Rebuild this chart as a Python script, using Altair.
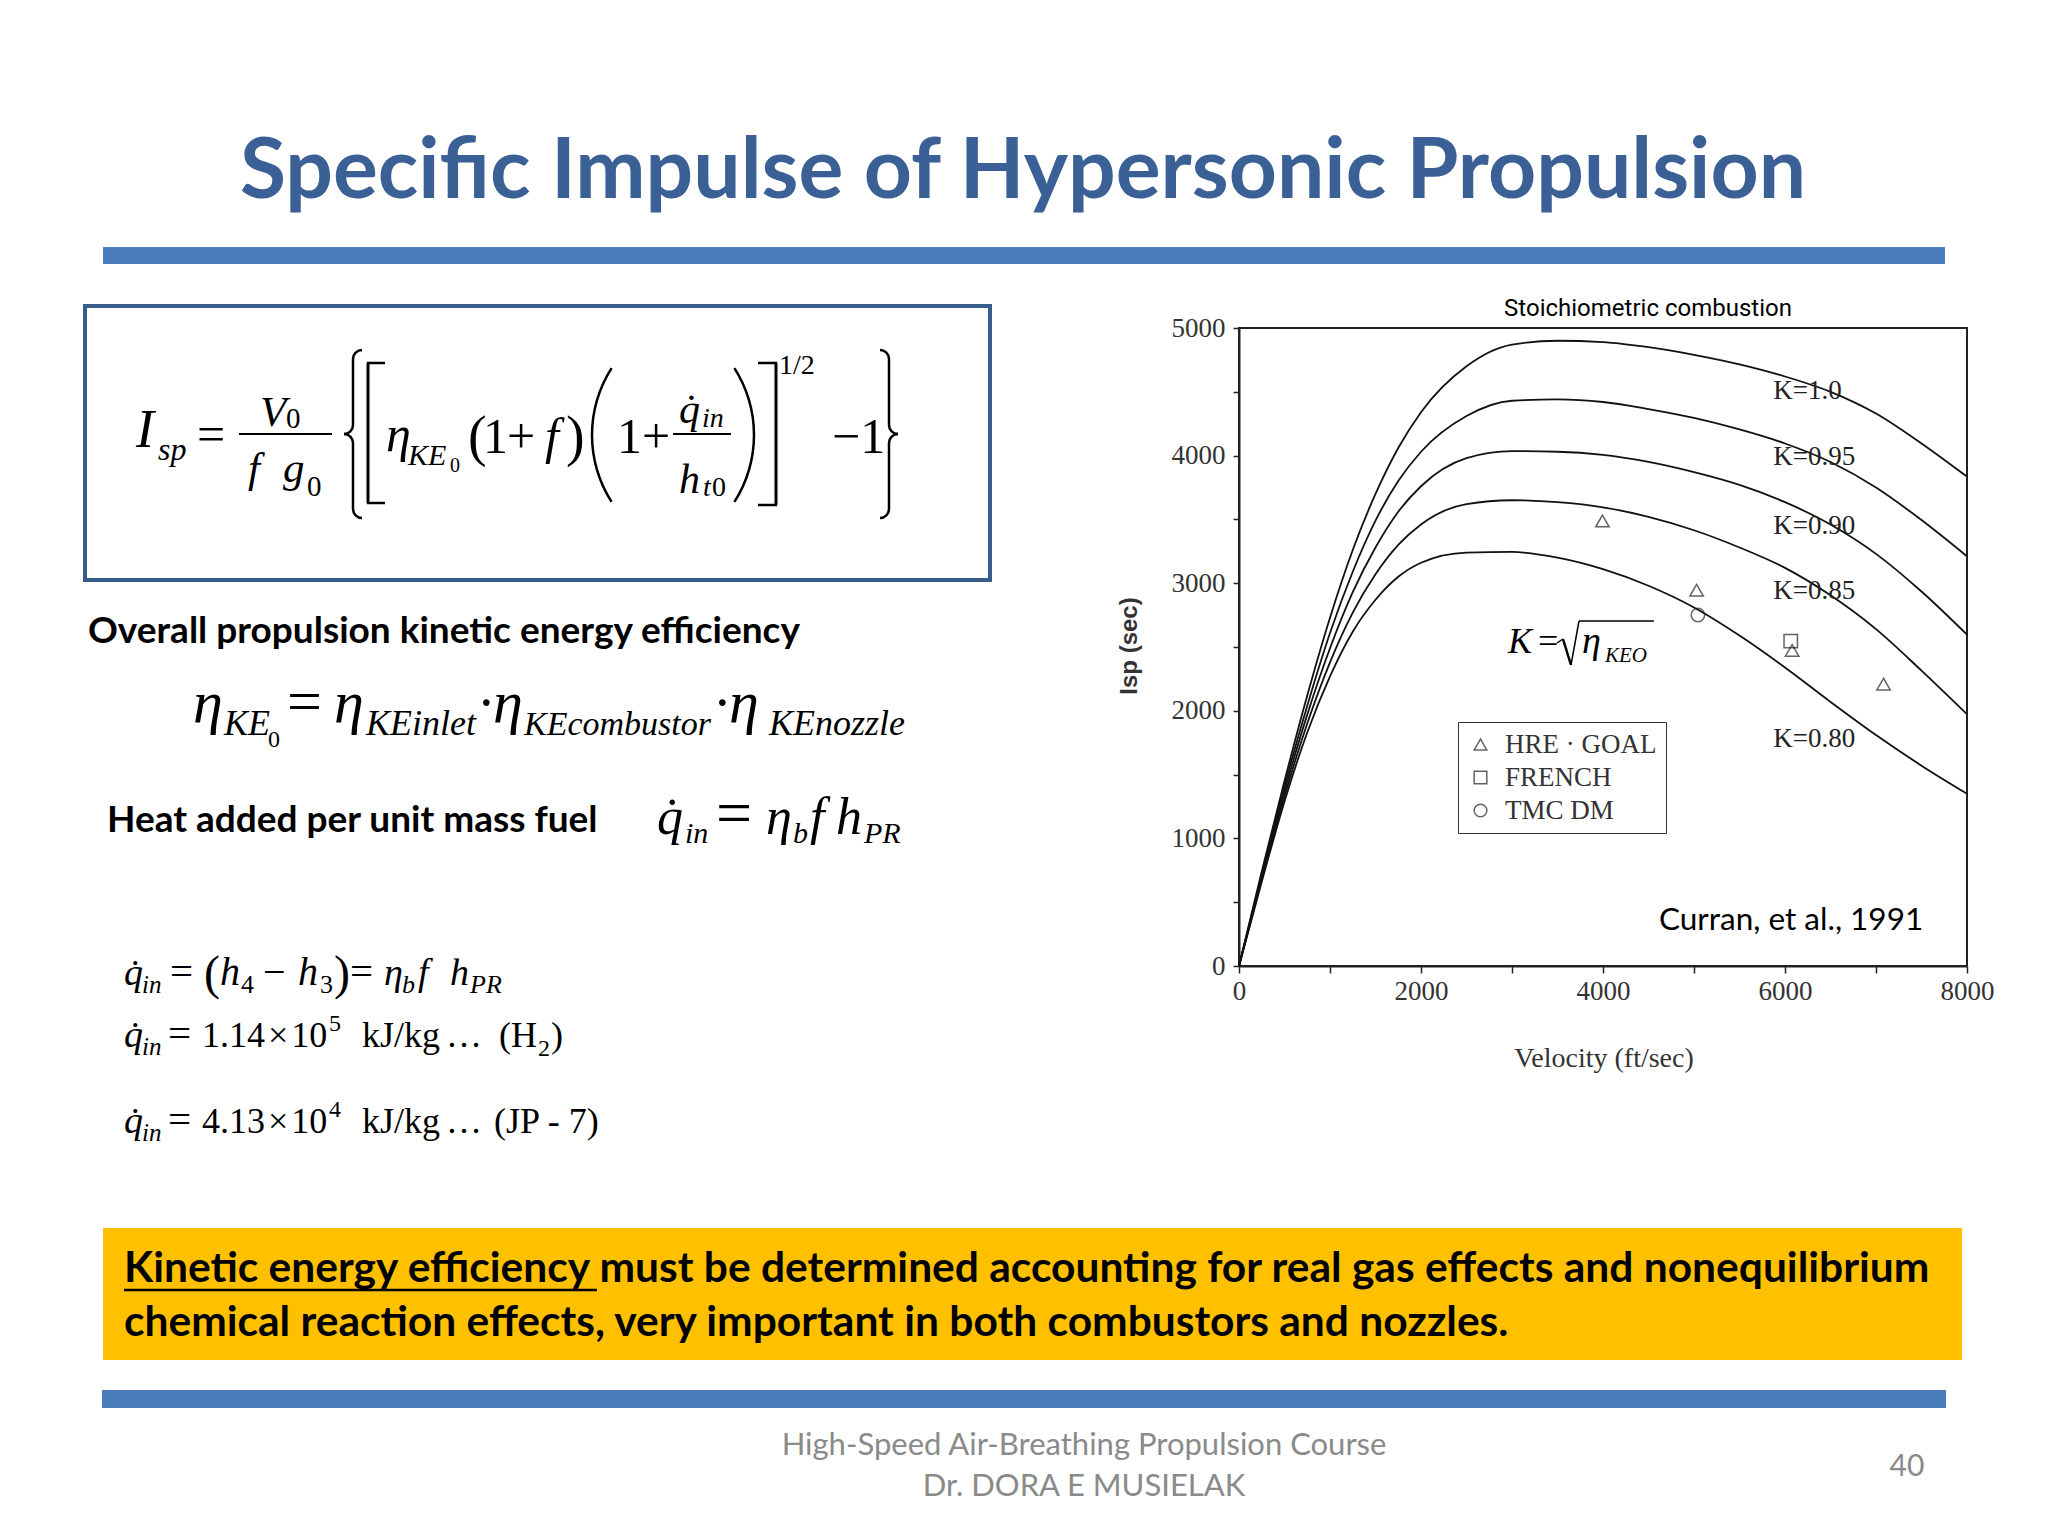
import math
import altair as alt
import pandas as pd

# ---------------- chart data ----------------
velocity = [0, 250, 500, 750, 1000, 1250, 1500, 1750, 2000, 2500, 3000, 3500,
            4000, 4500, 5000, 5500, 6000, 6500, 7000, 7500, 8000]
isp_k100 = [0, 740, 1450, 2120, 2730, 3260, 3700, 4060, 4340, 4700, 4870, 4900,
            4890, 4850, 4790, 4715, 4620, 4500, 4330, 4095, 3835]
isp_k095 = [0, 720, 1410, 2040, 2610, 3090, 3490, 3800, 4030, 4310, 4430, 4440,
            4420, 4365, 4295, 4205, 4095, 3950, 3750, 3495, 3211]
isp_k090 = [0, 700, 1370, 1970, 2490, 2930, 3280, 3560, 3760, 3980, 4035, 4030,
            4005, 3950, 3870, 3770, 3635, 3460, 3230, 2935, 2597]
isp_k085 = [0, 680, 1330, 1900, 2380, 2770, 3070, 3300, 3460, 3620, 3650, 3635,
            3595, 3520, 3415, 3280, 3120, 2905, 2640, 2315, 1973]
isp_k080 = [0, 660, 1290, 1830, 2270, 2620, 2870, 3050, 3160, 3240, 3245, 3200,
            3110, 2980, 2810, 2590, 2340, 2070, 1810, 1570, 1350]
k_names = ["K=1.0", "K=0.95", "K=0.90", "K=0.85", "K=0.80"]
k_label_v = [5870, 5870, 5870, 5870, 5870]
k_label_isp = [4509, 3988, 3446, 2935, 1779]

marker_source = ["HRE · GOAL", "HRE · GOAL", "HRE · GOAL", "HRE · GOAL", "TMC DM", "FRENCH"]
marker_v = [3994, 5029, 6078, 7083, 5043, 6063]
marker_isp = [3487, 2945, 2474, 2209, 2751, 2546]
legend_order = ["HRE · GOAL", "FRENCH", "TMC DM"]

x_ticks = [0, 1000, 2000, 3000, 4000, 5000, 6000, 7000, 8000]
y_ticks = [0, 500, 1000, 1500, 2000, 2500, 3000, 3500, 4000, 4500, 5000]

# ---------------- tables built from the arrays ----------------
curves = pd.concat([
    pd.DataFrame({"V": velocity, "Isp": vals, "K": name})
    for name, vals in zip(k_names, [isp_k100, isp_k095, isp_k090, isp_k085, isp_k080])
])
labels = pd.DataFrame({"V": k_label_v, "Isp": k_label_isp, "K": k_names})
markers = pd.DataFrame({"V": marker_v, "Isp": marker_isp, "source": marker_source})

# ---------------- layout ----------------
OX, OY = 1239, 328          # plot origin on the page
W, H = 728, 638             # plot area
SERIF = "Liberation Serif"
SANS = "Lato"
one = pd.DataFrame({"a": [0]})
HS = "\u200a"  # hair space


def px(x):
    return x - OX


def py(y):
    return y - OY


def text(s, x, y, size, font=SERIF, weight="normal", style="normal", color="black",
         align="left", baseline="alphabetic", angle=0):
    kw = dict(text=s, font=font, fontSize=size, fontWeight=weight, fontStyle=style,
              color=color, align=align, baseline=baseline)
    if angle:
        kw["angle"] = angle
    return alt.Chart(one).mark_text(**kw).encode(x=alt.value(px(x)), y=alt.value(py(y)))


def rect(x1, y1, x2, y2, fill=None, stroke=None, sw=0):
    kw = {}
    if fill:
        kw["fill"] = fill
    else:
        kw["fillOpacity"] = 0
    if stroke:
        kw["stroke"] = stroke
        kw["strokeWidth"] = sw
    return alt.Chart(one).mark_rect(**kw).encode(
        x=alt.value(px(x1)), x2=alt.value(px(x2)), y=alt.value(py(y1)), y2=alt.value(py(y2)))


def rule(x1, y1, x2, y2, sw=2, color="black"):
    return alt.Chart(one).mark_rule(color=color, strokeWidth=sw).encode(
        x=alt.value(px(x1)), x2=alt.value(px(x2)), y=alt.value(py(y1)), y2=alt.value(py(y2)))


def arc(cx, cy, r, w, t1, t2, color="black"):
    return alt.Chart(one).mark_arc(radius=r + w / 2, radius2=r - w / 2, theta=t1, theta2=t2,
                                   color=color).encode(x=alt.value(px(cx)), y=alt.value(py(cy)))


P = math.pi


def left_brace(s, yt, yb, r=9, w=2.5):
    ym = (yt + yb) / 2
    return [
        arc(s + r, yt + r, r, w, 1.5 * P, 2 * P),
        rule(s, yt + r, s, ym - r, w),
        arc(s - r, ym - r, r, w, 0.5 * P, P),
        arc(s - r, ym + r, r, w, 0, 0.5 * P),
        rule(s, ym + r, s, yb - r, w),
        arc(s + r, yb - r, r, w, P, 1.5 * P),
    ]


def right_brace(s, yt, yb, r=9, w=2.5):
    ym = (yt + yb) / 2
    return [
        arc(s - r, yt + r, r, w, 0, 0.5 * P),
        rule(s, yt + r, s, ym - r, w),
        arc(s + r, ym - r, r, w, P, 1.5 * P),
        arc(s + r, ym + r, r, w, 1.5 * P, 2 * P),
        rule(s, ym + r, s, yb - r, w),
        arc(s - r, yb - r, r, w, 0.5 * P, P),
    ]


layers = []

# ---- slide decoration ----
layers += [
    rect(103, 247, 1945, 264, fill="#4A7EBB"),
    rect(102, 1390, 1946, 1408, fill="#4A7EBB"),
    rect(103, 1228, 1962, 1360, fill="#FFC000"),
    rect(85, 306, 990, 580, stroke="#385D8A", sw=4),
    text("Specific Impulse of Hypersonic Propulsion", 1023, 198, 84, font=SANS,
         weight="bold", color="#3A6096", align="center"),
]

# ---- boxed formula ----
qdot = "q\u0307"
layers += [
    text("I", 136, 447, 54, style="italic"),
    text("sp", 158, 460, 32, style="italic"),
    text("=", 197, 451, 50),
    rule(239, 434, 332, 434, 2),
    text("V", 260, 426, 43, style="italic"),
    text("0", 286, 428, 29),
    text("f", 248, 482, 43, style="italic"),
    text("g", 283, 482, 43, style="italic"),
    text("0", 307, 496, 29),
]
layers += left_brace(353, 350, 518)
layers += [
    rule(368, 363, 368, 503, 3), rule(367, 363, 385, 363, 2.5), rule(367, 503, 385, 503, 2.5),
    text("\u03b7", 386, 451, 50, style="italic"),
    text("KE", 408, 465, 30, style="italic"),
    text("0", 450, 472, 20),
    text("(", 468, 455, 56),
    text("1", 483, 453, 50),
    text("+", 507, 453, 50),
    text("f", 545, 453, 50, style="italic"),
    text(")", 566, 455, 56),
    arc(716, 435, 124, 2.5, 1.5 * P - 0.57, 1.5 * P + 0.57),
    text("1", 617, 453, 50),
    text("+", 642, 453, 50),
    rule(673, 434, 731, 434, 2),
    text(qdot, 679, 423, 42, style="italic"),
    text("in", 702, 427, 28, style="italic"),
    text("h", 679, 493, 42, style="italic"),
    text("t", 703, 496, 28, style="italic"),
    text("0", 712, 496, 28),
    arc(630, 435, 124, 2.5, 0.5 * P - 0.57, 0.5 * P + 0.57),
    rule(776, 363, 776, 505, 3), rule(758, 363, 777, 363, 2.5), rule(758, 505, 777, 505, 2.5),
    text("1/2", 779, 374, 28),
    text("\u22121", 832, 453, 50),
]
layers += right_brace(889, 350, 518)

# ---- efficiency line ----
layers += [
    text("Overall propulsion kinetic energy efficiency", 88, 643, 37, font=SANS, weight="bold"),
    text("\u03b7", 193, 722, 60, style="italic"),
    text("KE", 224, 735, 36, style="italic"),
    text("0", 268, 747, 24),
    text("=", 287, 722, 62),
    text("\u03b7", 334, 722, 60, style="italic"),
    text("KEinlet", 366, 735, 36, style="italic"),
    text("\u00b7", 477, 722, 56),
    text("\u03b7", 493, 722, 60, style="italic"),
    text("KEcombustor", 524, 735, 34, style="italic"),
    text("\u00b7", 713, 722, 56),
    text("\u03b7", 729, 722, 60, style="italic"),
    text("KEnozzle", 769, 735, 36, style="italic"),
]

# ---- heat line ----
layers += [
    text("Heat added per unit mass fuel", 107, 832, 37, font=SANS, weight="bold"),
    text(qdot, 657, 834, 52, style="italic"),
    text("in", 685, 843, 30, style="italic"),
    text("=", 716, 834, 64),
    text("\u03b7", 766, 834, 52, style="italic"),
    text("b", 793, 843, 30, style="italic"),
    text("f", 810, 834, 52, style="italic"),
    text("h", 836, 834, 52, style="italic"),
    text("PR", 864, 843, 30, style="italic"),
]

# ---- three q-dot lines ----
layers += [
    text(qdot, 124, 985, 38, style="italic"), text("in", 142, 993, 25, style="italic"),
    text("=", 170, 985, 41),
    text("(", 204, 989, 48),
    text("h", 220, 985, 40, style="italic"), text("4", 241, 993, 26),
    text("\u2212", 263, 985, 40),
    text("h", 298, 985, 40, style="italic"), text("3", 320, 993, 26),
    text(")", 334, 989, 48),
    text("=", 350, 985, 41),
    text("\u03b7", 384, 985, 38, style="italic"), text("b", 402, 993, 26, style="italic"),
    text("f", 418, 985, 38, style="italic"),
    text("h", 450, 985, 38, style="italic"), text("PR", 470, 993, 26, style="italic"),

    text(qdot, 124, 1047, 38, style="italic"), text("in", 142, 1055, 25, style="italic"),
    text("=", 168, 1047, 41),
    text("1.14" + HS + "\u00d7" + HS + "10", 202, 1047, 36),
    text("5", 329, 1031, 24),
    text("kJ/kg", 362, 1047, 36),
    text("\u2026", 446, 1047, 36),
    text("(H", 499, 1047, 36),
    text("2", 538, 1056, 24),
    text(")", 551, 1047, 36),

    text(qdot, 124, 1133, 38, style="italic"), text("in", 142, 1141, 25, style="italic"),
    text("=", 168, 1133, 41),
    text("4.13" + HS + "\u00d7" + HS + "10", 202, 1133, 36),
    text("4", 329, 1117, 24),
    text("kJ/kg", 362, 1133, 36),
    text("\u2026", 446, 1133, 36),
    text("(JP - 7)", 494, 1133, 36),
]

# ---- yellow note ----
layers += [
    text("Kinetic energy efficiency must be determined accounting for real gas effects and nonequilibrium",
         124, 1282, 42.5, font=SANS, weight="bold"),
    text("chemical reaction effects, very important in both combustors and nozzles.",
         124, 1336, 42.5, font=SANS, weight="bold"),
    rule(124, 1290, 597, 1290, 2.5),
]

# ---- footer ----
layers += [
    text("High-Speed Air-Breathing Propulsion Course", 1084, 1455, 31, font=SANS,
         color="#8A8A8A", align="center"),
    text("Dr. DORA E MUSIELAK", 1084, 1496, 31, font=SANS, color="#8A8A8A", align="center"),
    text("40", 1907, 1476, 30, font=SANS, color="#8A8A8A", align="center"),
]

# ---- chart annotations ----
layers += [
    text("Stoichiometric combustion", 1648, 316, 24, font="Roboto", align="center"),
    text("Isp (sec)", 1130, 646, 24, font="Liberation Sans", weight="bold", color="#333333",
         align="center", baseline="middle", angle=270),
    text("Velocity (ft/sec)", 1604, 1059, 28, color="#333333", align="center", baseline="middle"),
    text("K", 1508, 653, 36, style="italic"),
    text("=", 1538, 653, 36),
    rule(1557, 643, 1563, 639, 1.5),
    rule(1563, 639, 1571, 665, 2.5),
    rule(1571, 665, 1579, 621, 1.5),
    rule(1579, 621, 1654, 621, 1.5),
    text("\u03b7", 1582, 653, 38, style="italic"),
    text("KEO", 1605, 662, 21, style="italic"),
    text("Curran, et al., 1991", 1659, 930, 31.5, font=SANS),
]

# ---- chart data ----
xenc = alt.X("V:Q", scale=alt.Scale(domain=[0, 8000], nice=False),
             axis=alt.Axis(values=x_ticks, format="d", title=None,
                           labelExpr="datum.value % 2000 == 0 ? datum.label : ''",
                           tickSize=7, labelPadding=5, labelFlush=False, labelOverlap=False))
yenc = alt.Y("Isp:Q", scale=alt.Scale(domain=[0, 5000], nice=False),
             axis=alt.Axis(values=y_ticks, format="d", title=None,
                           labelExpr="datum.value % 1000 == 0 ? datum.label : ''",
                           tickSize=6, labelPadding=8, labelOverlap=False))

curve_layer = alt.Chart(curves).mark_line(interpolate="monotone", color="#111111",
                                          strokeWidth=1.8).encode(
    x=xenc, y=yenc, detail="K:N")

label_layer = alt.Chart(labels).mark_text(font=SERIF, fontSize=27, color="#222222",
                                          align="left", baseline="middle").encode(
    x="V:Q", y="Isp:Q", text="K:N")

marker_layer = alt.Chart(markers).mark_point(filled=False, size=180, strokeWidth=1.5,
                                             color="#222222").encode(
    x="V:Q", y="Isp:Q",
    shape=alt.Shape("source:N",
                    scale=alt.Scale(domain=legend_order,
                                    range=["triangle-up", "square", "circle"]),
                    legend=alt.Legend(title=None, orient="none", legendX=219, legendY=394,
                                      direction="vertical", labelFont=SERIF, labelFontSize=27,
                                      labelColor="#333333", labelLimit=400, symbolSize=160,
                                      symbolStrokeWidth=1.5, symbolStrokeColor="#222222",
                                      rowPadding=5, labelOffset=11, padding=9,
                                      strokeColor="#333333", fillColor="white",
                                      cornerRadius=0)))

layers = [curve_layer] + layers + [label_layer, marker_layer]

chart = alt.layer(*layers).properties(
    width=W, height=H,
    autosize=alt.AutoSizeParams(type="none"),
    padding={"left": OX - 8, "top": OY - 8, "right": 2032 - (OX - 8) - W,
             "bottom": 1512 - (OY - 8) - H},
).configure_view(stroke="#222222", strokeWidth=2).configure_axis(
    domainColor="#222222", domainWidth=2, tickColor="#222222", tickWidth=1.5,
    labelFont=SERIF, labelFontSize=27, labelColor="#333333", grid=False,
)

chart.save("out.html", embed_options={"renderer": "svg", "actions": False})
